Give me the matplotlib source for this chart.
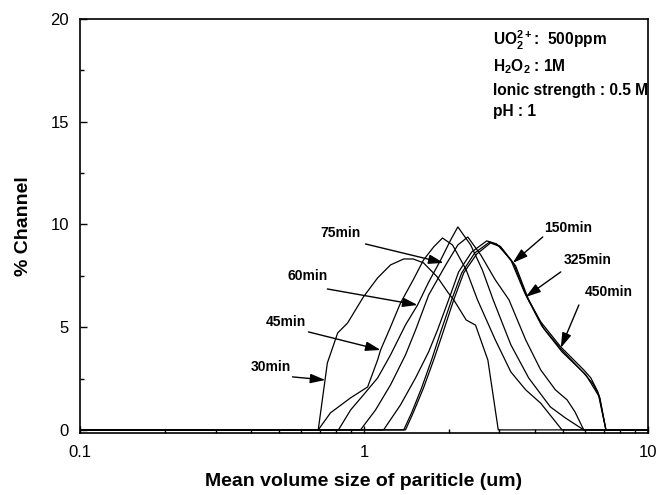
import matplotlib as mpl
mpl.use('Agg')
import matplotlib.pyplot as plt
from matplotlib.ticker import MultipleLocator, LogLocator, NullFormatter

plt.rcParams['font.family'] = ['Liberation Sans', 'DejaVu Sans']
plt.rcParams['mathtext.fontset'] = 'custom'
plt.rcParams['mathtext.rm'] = 'Liberation Sans'
plt.rcParams['mathtext.bf'] = 'Liberation Sans:bold'

# particle size (um) vs % channel
x30 = [0.1, 0.69, 0.743, 0.808, 0.875, 0.995, 1.117, 1.24, 1.38, 1.49, 1.62, 1.81, 1.98, 2.07, 2.29, 2.47, 2.73, 2.97, 10]
y30 = [0, 0, 3.26, 4.72, 5.2, 6.47, 7.4, 8.03, 8.32, 8.32, 8.13, 7.45, 6.67, 6.33, 5.35, 5.1, 3.4, 0, 0]

x45 = [0.1, 0.69, 0.762, 0.897, 1.03, 1.117, 1.144, 1.24, 1.345, 1.49, 1.62, 1.76, 1.89, 2.05, 2.29, 2.51, 2.90, 3.29, 3.71, 4.19, 4.98, 10]
y45 = [0, 0, 0.83, 1.56, 2.09, 3.41, 3.89, 5.01, 6.18, 7.30, 8.27, 8.91, 9.34, 9.00, 7.79, 6.33, 4.38, 2.82, 1.95, 1.30, 0, 0]

x60 = [0.1, 0.813, 0.897, 0.995, 1.117, 1.24, 1.40, 1.544, 1.69, 1.862, 2.02, 2.14, 2.375, 2.61, 2.85, 3.29, 3.80, 4.53, 5.12, 5.94, 10]
y60 = [0, 0, 0.97, 1.70, 2.53, 3.65, 5.11, 6.08, 7.20, 8.27, 9.25, 9.88, 9.00, 7.79, 6.33, 4.14, 2.53, 1.12, 0.58, 0, 0]

x75 = [0.1, 0.972, 1.098, 1.24, 1.40, 1.52, 1.69, 1.94, 2.14, 2.32, 2.576, 2.90, 3.24, 3.71, 4.19, 4.72, 5.19, 5.53, 5.94, 10]
y75 = [0, 0, 0.97, 2.19, 3.65, 4.87, 6.57, 8.03, 9.00, 9.39, 8.52, 7.30, 6.33, 4.38, 2.92, 1.95, 1.46, 0.88, 0, 0]

x150 = [0.1, 1.172, 1.345, 1.519, 1.689, 1.816, 1.986, 2.154, 2.394, 2.705, 2.934, 3.29, 3.68, 4.19, 4.93, 5.94, 6.29, 6.66, 7.11, 10]
y150 = [0, 0, 1.22, 2.53, 3.80, 4.87, 6.33, 7.69, 8.66, 9.20, 9.05, 8.27, 6.67, 5.26, 4.04, 2.92, 2.53, 1.85, 0, 0]

x325 = [0.1, 1.38, 1.471, 1.595, 1.73, 1.862, 2.035, 2.208, 2.453, 2.772, 3.006, 3.368, 3.743, 4.228, 4.973, 5.94, 6.40, 6.72, 7.11, 10]
y325 = [0, 0, 0.83, 2.04, 3.41, 4.77, 6.33, 7.64, 8.61, 9.15, 8.95, 8.08, 6.47, 5.06, 3.89, 2.77, 2.24, 1.70, 0, 0]

x450 = [0.1, 1.40, 1.49, 1.62, 1.76, 1.90, 2.07, 2.244, 2.494, 2.79, 3.03, 3.42, 3.80, 4.30, 4.98, 6.04, 6.45, 6.77, 7.11, 10]
y450 = [0, 0, 0.83, 2.04, 3.41, 4.77, 6.33, 7.64, 8.56, 9.10, 8.91, 7.98, 6.33, 4.92, 3.80, 2.68, 2.04, 1.56, 0, 0]

curves = [(x30, y30), (x45, y45), (x60, y60), (x75, y75), (x150, y150), (x325, y325), (x450, y450)]

labels = ['30min', '45min', '60min', '75min', '150min', '325min', '450min']
# label centre, arrow tail, arrow tip (data coords)
label_pos = [(0.468, 3.07), (0.529, 5.26), (0.632, 7.49), (0.826, 9.59), (5.22, 9.85), (6.14, 8.27), (7.29, 6.72)]
arrow_tail = [(0.56, 2.58), (0.637, 4.77), (0.743, 6.86), (1.012, 9.05), (4.26, 9.39), (4.93, 7.69), (5.71, 6.08)]
arrow_tip = [(0.731, 2.43), (1.144, 3.89), (1.544, 6.08), (1.907, 8.13), (3.34, 8.13), (3.71, 6.47), (4.93, 3.99)]

info = [r'UO$_\mathbf{2}^\mathbf{2+}$:  500ppm',
        r'H$_\mathbf{2}$O$_\mathbf{2}$ : 1M',
        'Ionic strength : 0.5 M',
        'pH : 1']
info_y = [18.98, 17.7, 16.5, 15.5]

fig = plt.figure(figsize=(6.59, 4.95), dpi=100)
ax = fig.add_axes([0.1214, 0.1253, 0.8619, 0.8363])

for xs, ys in curves:
    ax.plot(xs, ys, color='black', lw=0.9)

for lab, p, t, h in zip(labels, label_pos, arrow_tail, arrow_tip):
    ax.text(p[0], p[1], lab, fontsize=10, fontweight='bold', ha='center', va='center')
    ax.annotate('', xy=h, xytext=t,
                arrowprops=dict(arrowstyle='-|>,head_length=0.7,head_width=0.22', color='black',
                                lw=1, mutation_scale=13, shrinkA=0, shrinkB=0))

for s, yy in zip(info, info_y):
    ax.text(2.84, yy, s, fontsize=11.2, fontweight='bold', ha='left', va='center')

ax.set_xscale('log')
ax.set_xlim(0.1, 10)
ax.set_ylim(-0.15, 20)
ax.set_xticks([0.1, 1, 10], ['0.1', '1', '10'])
ax.xaxis.set_minor_locator(LogLocator(base=10, subs=range(2, 10)))
ax.xaxis.set_minor_formatter(NullFormatter())
ax.set_yticks([0, 5, 10, 15, 20])
ax.yaxis.set_minor_locator(MultipleLocator(2.5))
ax.tick_params(which='both', direction='in', labelsize=12, width=1)
ax.tick_params(which='major', length=5)
ax.tick_params(which='minor', length=3)
ax.tick_params(axis='x', pad=9)
ax.tick_params(axis='y', pad=8)
for sp in ax.spines.values():
    sp.set_linewidth(1.2)

ax.set_xlabel('Mean volume size of pariticle (um)', fontsize=14, fontweight='bold', labelpad=9)
ax.set_ylabel('% Channel', fontsize=14, fontweight='bold', labelpad=13)

plt.savefig('out.png', dpi=100)
